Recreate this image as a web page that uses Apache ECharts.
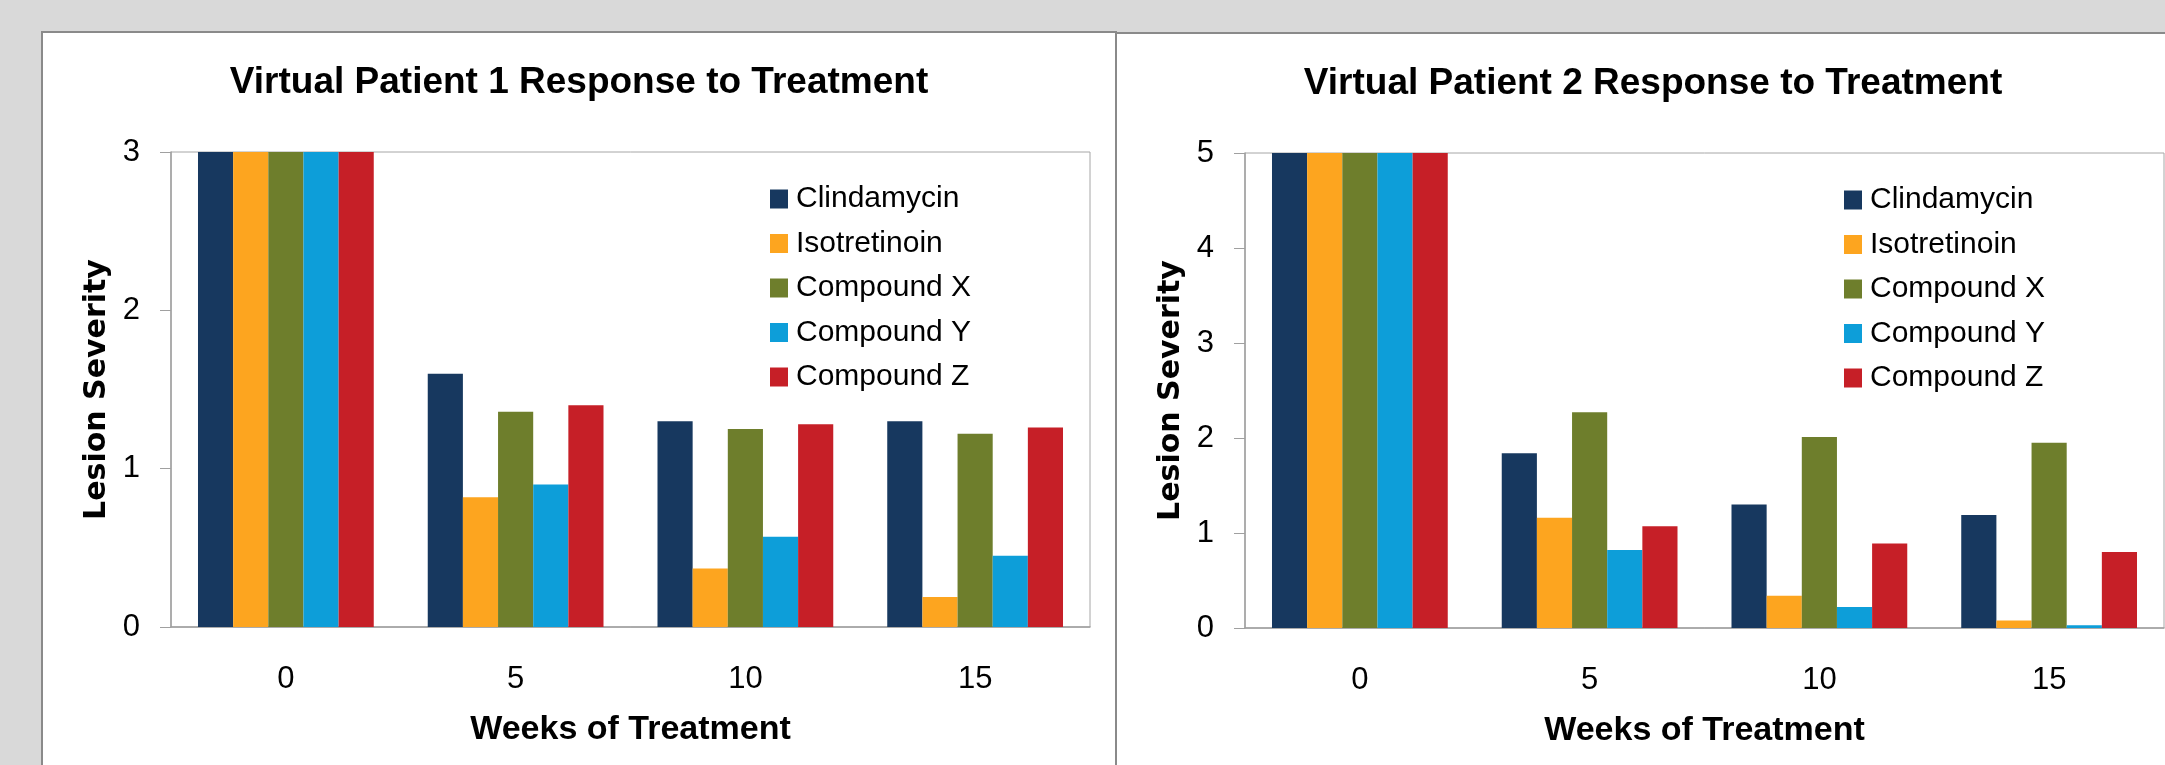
<!DOCTYPE html>
<html>
<head>
<meta charset="utf-8">
<script src="https://cdn.jsdelivr.net/npm/echarts@6/dist/echarts.min.js"></script>
<style>
  html, body { margin: 0; padding: 0; background: #d9d9d9; width: 2165px; height: 765px; overflow: hidden; }
  .panel { position: absolute; background: #fff; border: 2px solid #8a8a8a; width: 1072px; height: 780px; }
  #p1 { left: 41px; top: 31px; }
  #p2 { left: 1115px; top: 32px; }
</style>
</head>
<body>
<div id="p1" class="panel"></div>
<div id="p2" class="panel"></div>
<script>
// weeks on the x axis
const weeks = ['0', '5', '10', '15']
const drugs = ['Clindamycin', 'Isotretinoin', 'Compound X', 'Compound Y', 'Compound Z']
const colors = ['#17385f', '#fda51f', '#6e7e2c', '#0d9ed9', '#c61f27']

// patient 1
const clindamycin1 = [3, 1.6, 1.3, 1.3]
const isotretinoin1 = [3, 0.82, 0.37, 0.19]
const compoundX1 = [3, 1.36, 1.25, 1.22]
const compoundY1 = [3, 0.9, 0.57, 0.45]
const compoundZ1 = [3, 1.4, 1.28, 1.26]

// patient 2
const clindamycin2 = [5, 1.84, 1.3, 1.19]
const isotretinoin2 = [5, 1.16, 0.34, 0.08]
const compoundX2 = [5, 2.27, 2.01, 1.95]
const compoundY2 = [5, 0.82, 0.22, 0.03]
const compoundZ2 = [5, 1.07, 0.89, 0.8]

const sans = '"Liberation Sans", Arial, sans-serif'

function buildOption(title, yMax, values) {
  return {
    animation: false,
    title: {
      text: title,
      left: 'center',
      top: 31,
      padding: 0,
      textStyle: { fontFamily: sans, fontWeight: 'bold', fontSize: 37, color: '#000' }
    },
    legend: {
      orient: 'vertical',
      left: 727,
      top: 151,
      padding: 0,
      itemGap: 14.5,
      itemWidth: 18,
      itemHeight: 19,
      icon: 'rect',
      textStyle: { fontFamily: sans, fontSize: 30, color: '#000', padding: [0, 0, 0, 3] },
      data: drugs
    },
    grid: {
      left: 128,
      top: 119,
      width: 919,
      height: 475,
      show: true,
      borderColor: '#a6a6a6',
      borderWidth: 1,
      backgroundColor: '#fff'
    },
    xAxis: {
      type: 'category',
      data: weeks,
      name: 'Weeks of Treatment',
      nameLocation: 'middle',
      nameGap: 86,
      nameTextStyle: { fontFamily: sans, fontWeight: 'bold', fontSize: 34, color: '#000' },
      axisLine: { lineStyle: { color: '#a0a0a0', width: 1.5 } },
      axisTick: { length: 11, lineStyle: { color: '#a0a0a0' } },
      axisLabel: { margin: 37, fontFamily: sans, fontSize: 31, color: '#000' }
    },
    yAxis: {
      type: 'value',
      min: 0,
      max: yMax,
      interval: 1,
      name: 'Lesion Severity',
      nameLocation: 'middle',
      nameGap: 55,
      nameTextStyle: { fontFamily: '"DejaVu Sans", sans-serif', fontWeight: 'bold', fontSize: 30, color: '#000' },
      axisLine: { show: true, lineStyle: { color: '#a0a0a0', width: 1.5 } },
      axisTick: { show: true, length: 11, lineStyle: { color: '#a0a0a0' } },
      splitLine: { show: false },
      axisLabel: { margin: 31, fontFamily: sans, fontSize: 31, color: '#000' }
    },
    series: drugs.map((name, i) => ({
      name: name,
      type: 'bar',
      data: values[i],
      barGap: '0%',
      barCategoryGap: '23.5%',
      itemStyle: { color: colors[i] }
    }))
  }
}

const chart1 = echarts.init(document.getElementById('p1'))
chart1.setOption(buildOption('Virtual Patient 1 Response to Treatment', 3,
  [clindamycin1, isotretinoin1, compoundX1, compoundY1, compoundZ1]))

const chart2 = echarts.init(document.getElementById('p2'))
chart2.setOption(buildOption('Virtual Patient 2 Response to Treatment', 5,
  [clindamycin2, isotretinoin2, compoundX2, compoundY2, compoundZ2]))
</script>
</body>
</html>
